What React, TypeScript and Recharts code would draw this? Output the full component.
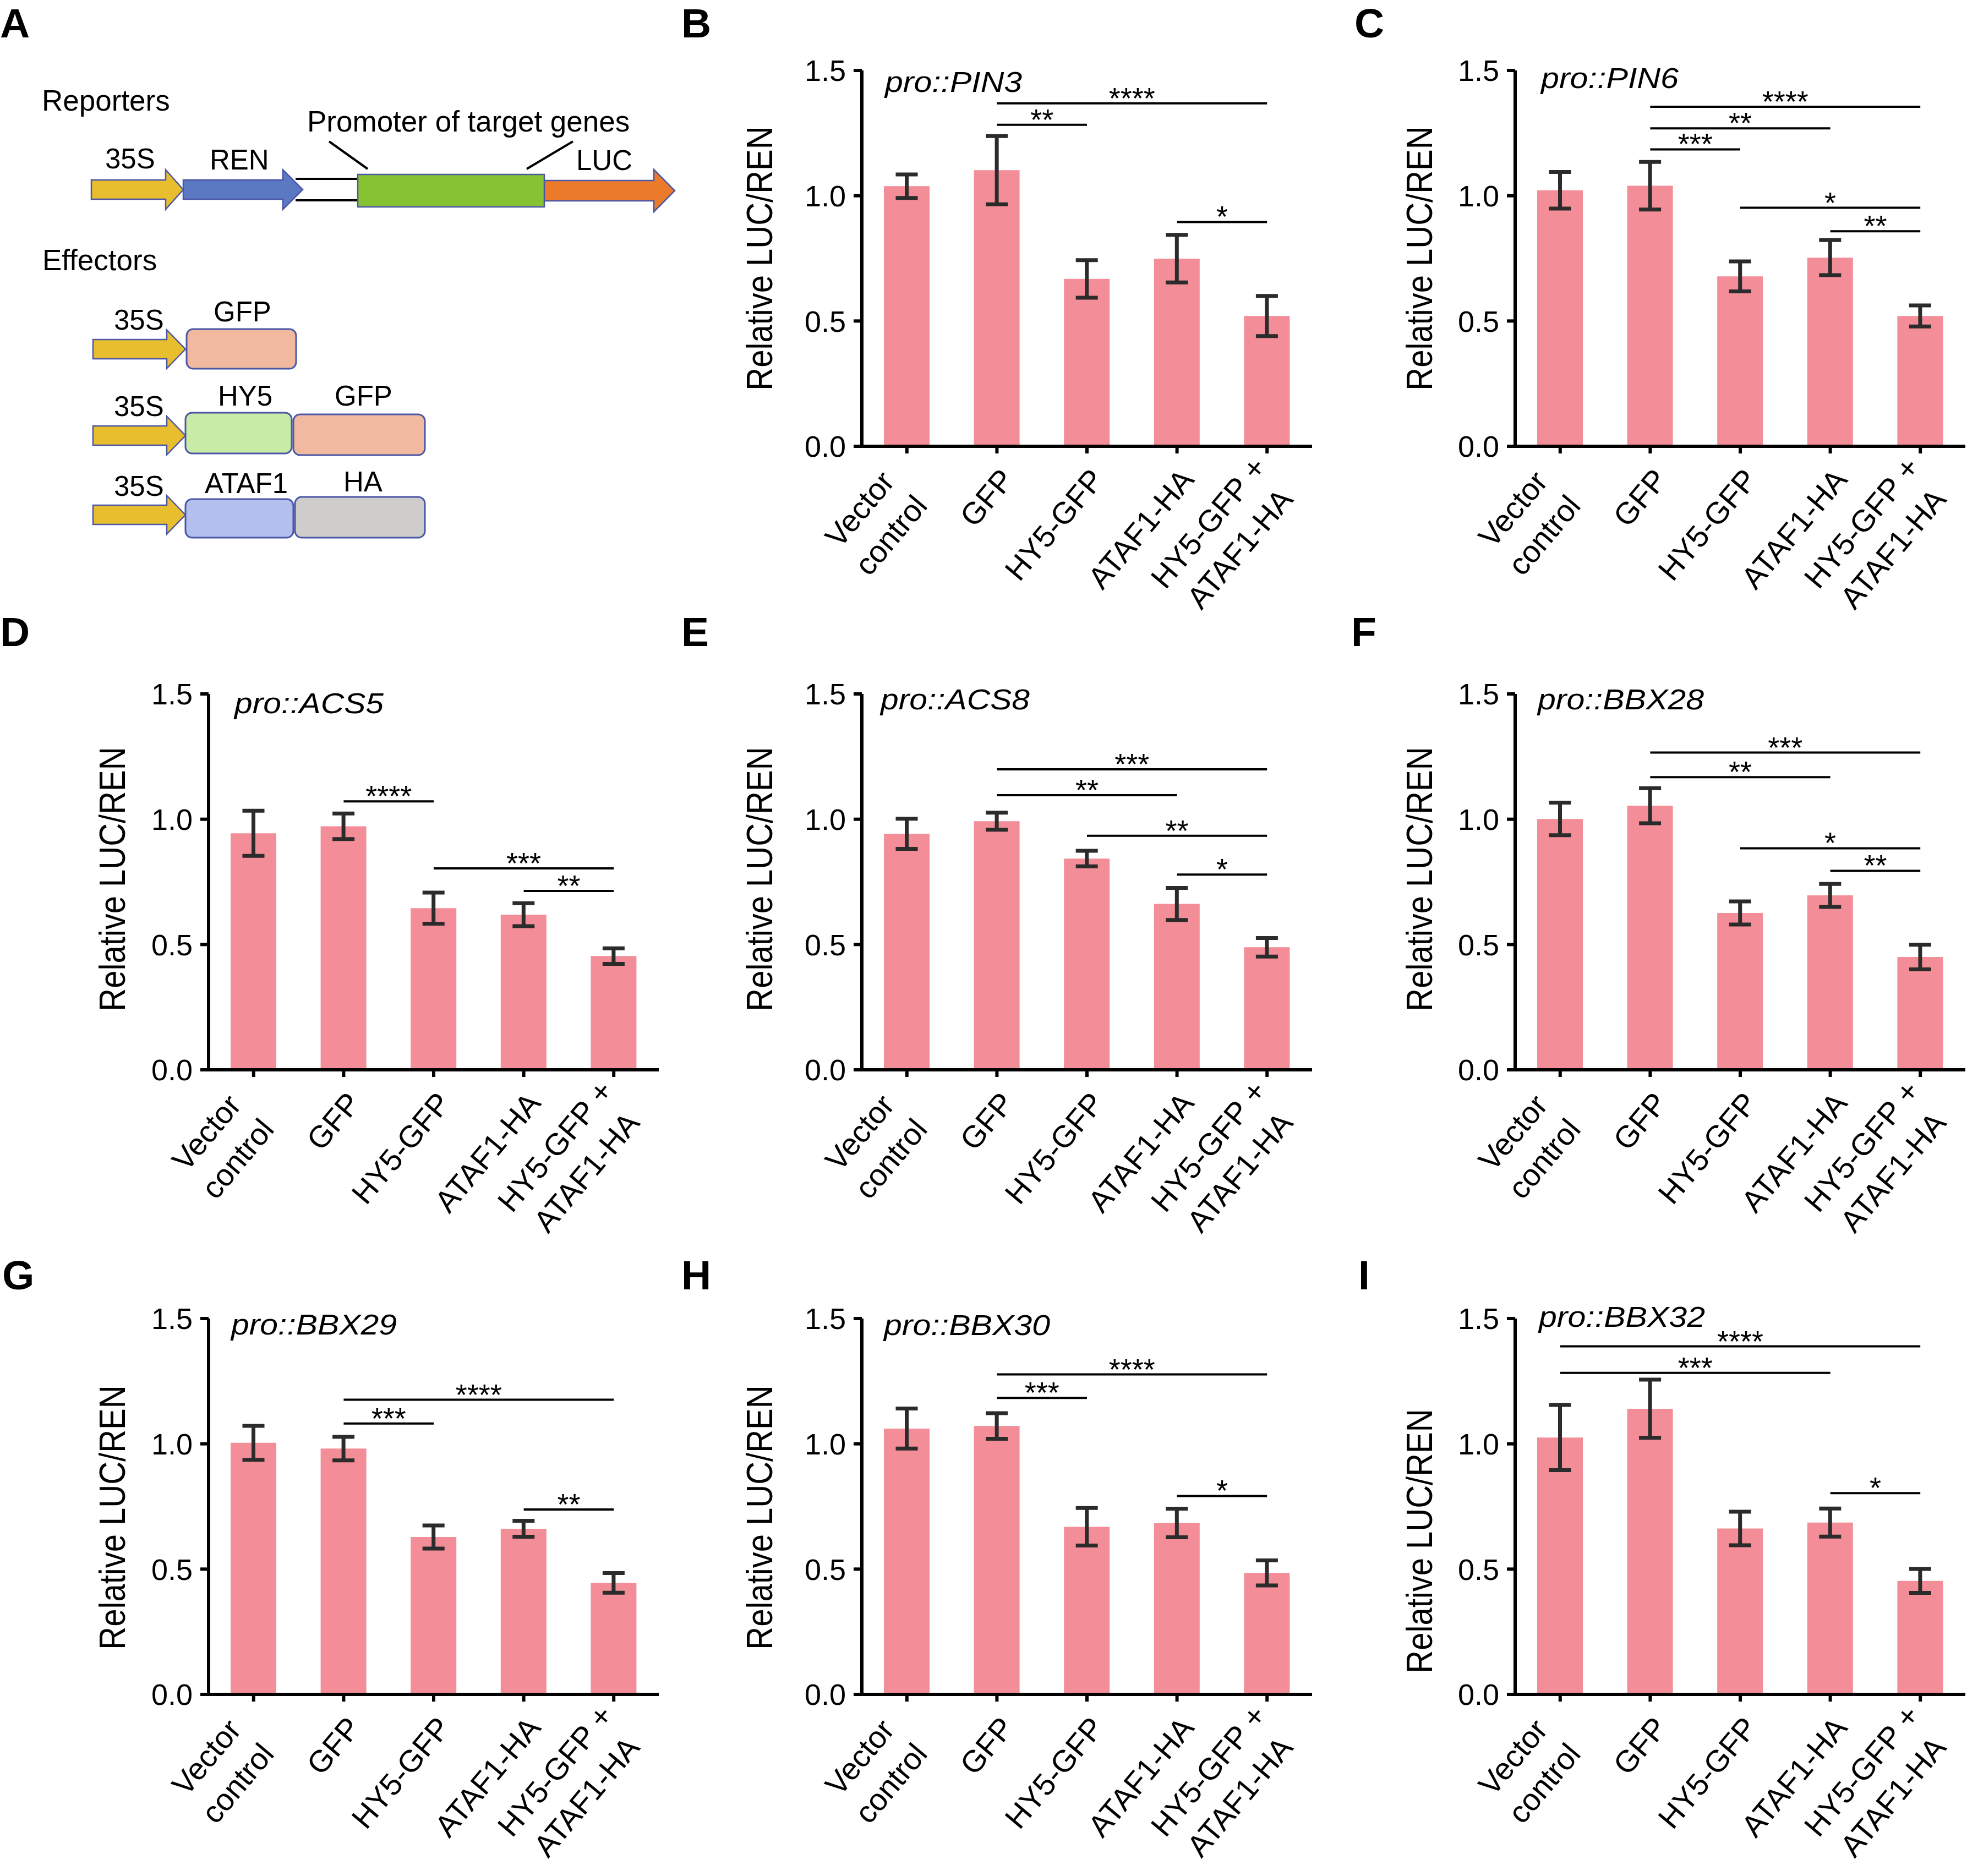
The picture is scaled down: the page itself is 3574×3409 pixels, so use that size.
import React from 'react';
import { BarChart, Bar, XAxis, YAxis, ErrorBar, ReferenceLine } from 'recharts';

// shared categories and ticks
const categories = ['Vector\ncontrol', 'GFP', 'HY5-GFP', 'ATAF1-HA', 'HY5-GFP +\nATAF1-HA'];
const yTicks = [0, 0.5, 1.0, 1.5];

// [from index, to index, bracket level, stars]
type Sig = [number, number, number, string];

const pin3Mean = [1.038, 1.102, 0.668, 0.749, 0.52];
const pin3Err = [0.047, 0.136, 0.075, 0.095, 0.08];
const pin3Sig: Sig[] = [[1, 4, 1.369, '****'], [1, 2, 1.283, '**'], [3, 4, 0.895, '*']];

const pin6Mean = [1.022, 1.04, 0.678, 0.753, 0.52];
const pin6Err = [0.073, 0.095, 0.06, 0.07, 0.042];
const pin6Sig: Sig[] = [[1, 4, 1.355, '****'], [1, 3, 1.269, '**'], [1, 2, 1.185, '***'], [2, 4, 0.952, '*'], [3, 4, 0.858, '**']];

const acs5Mean = [0.944, 0.972, 0.645, 0.619, 0.454];
const acs5Err = [0.09, 0.051, 0.062, 0.046, 0.031];
const acs5Sig: Sig[] = [[1, 2, 1.071, '****'], [2, 4, 0.804, '***'], [3, 4, 0.714, '**']];

const acs8Mean = [0.942, 0.992, 0.843, 0.662, 0.489];
const acs8Err = [0.06, 0.034, 0.031, 0.064, 0.037];
const acs8Sig: Sig[] = [[1, 4, 1.199, '***'], [1, 3, 1.096, '**'], [2, 4, 0.934, '**'], [3, 4, 0.779, '*']];

const bbx28Mean = [1.001, 1.054, 0.626, 0.696, 0.45];
const bbx28Err = [0.065, 0.07, 0.046, 0.046, 0.049];
const bbx28Sig: Sig[] = [[1, 4, 1.266, '***'], [1, 3, 1.168, '**'], [2, 4, 0.884, '*'], [3, 4, 0.794, '**']];

const bbx29Mean = [1.004, 0.981, 0.628, 0.661, 0.445];
const bbx29Err = [0.068, 0.047, 0.046, 0.032, 0.039];
const bbx29Sig: Sig[] = [[1, 4, 1.176, '****'], [1, 2, 1.081, '***'], [3, 4, 0.738, '**']];

const bbx30Mean = [1.061, 1.071, 0.669, 0.684, 0.485];
const bbx30Err = [0.08, 0.051, 0.075, 0.057, 0.05];
const bbx30Sig: Sig[] = [[1, 4, 1.277, '****'], [1, 2, 1.183, '***'], [3, 4, 0.792, '*']];

const bbx32Mean = [1.025, 1.14, 0.662, 0.686, 0.453];
const bbx32Err = [0.13, 0.116, 0.067, 0.056, 0.048];
const bbx32Sig: Sig[] = [[0, 4, 1.389, '****'], [0, 3, 1.283, '***'], [3, 4, 0.803, '*']];

const FONT = "'Liberation Sans', Arial, Helvetica, sans-serif";
const BAR = '#F38D97';
const Y_W = 230;
const M_TOP = 100;
const PLOT_W = 818;
const PLOT_H = 683;
const X_H = 360;
const XFS = 56;

const colX = [379, 1566, 2753];
const rowY = [128, 1261, 2396];

const panels = [
  { id: 'B', col: 1, row: 0, gene: 'PIN3', mean: pin3Mean, err: pin3Err, sig: pin3Sig, tdx: 42, tdy: 39, tw: 249, ldx: -187, ldy: 0 },
  { id: 'C', col: 2, row: 0, gene: 'PIN6', mean: pin6Mean, err: pin6Err, sig: pin6Sig, tdx: 47, tdy: 32, tw: 250, ldx: -175, ldy: 0 },
  { id: 'D', col: 0, row: 1, gene: 'ACS5', mean: acs5Mean, err: acs5Err, sig: acs5Sig, tdx: 47, tdy: 35, tw: 271, ldx: -176, ldy: -5 },
  { id: 'E', col: 1, row: 1, gene: 'ACS8', mean: acs8Mean, err: acs8Err, sig: acs8Sig, tdx: 34, tdy: 28, tw: 271, ldx: -187, ldy: -5 },
  { id: 'F', col: 2, row: 1, gene: 'BBX28', mean: bbx28Mean, err: bbx28Err, sig: bbx28Sig, tdx: 41, tdy: 28, tw: 302, ldx: -175, ldy: -5 },
  { id: 'G', col: 0, row: 2, gene: 'BBX29', mean: bbx29Mean, err: bbx29Err, sig: bbx29Sig, tdx: 41, tdy: 29, tw: 301, ldx: -176, ldy: 20 },
  { id: 'H', col: 1, row: 2, gene: 'BBX30', mean: bbx30Mean, err: bbx30Err, sig: bbx30Sig, tdx: 40, tdy: 30, tw: 302, ldx: -187, ldy: 20 },
  { id: 'I', col: 2, row: 2, gene: 'BBX32', mean: bbx32Mean, err: bbx32Err, sig: bbx32Sig, tdx: 43, tdy: 15, tw: 302, ldx: -175, ldy: 63 },
];

const letters = [
  { t: 'A', x: 0, y: 68 }, { t: 'B', x: 1238, y: 68 }, { t: 'C', x: 2461, y: 68 },
  { t: 'D', x: 0, y: 1174 }, { t: 'E', x: 1238, y: 1174 }, { t: 'F', x: 2455, y: 1174 },
  { t: 'G', x: 4, y: 2343 }, { t: 'H', x: 1238, y: 2343 }, { t: 'I', x: 2468, y: 2343 },
];

// Arial / Liberation Sans advance widths (em) for the label characters
const AW: Record<string, number> = {
  V: 0.667, e: 0.556, c: 0.5, t: 0.278, o: 0.556, r: 0.333, n: 0.556, l: 0.222, G: 0.778, F: 0.611,
  P: 0.667, H: 0.722, Y: 0.667, '5': 0.556, '-': 0.333, A: 0.667, T: 0.611, '1': 0.556, ' ': 0.278, '+': 0.584,
};
const textW = (s: string, fs: number) => Array.from(s).reduce((a, ch) => a + (AW[ch] ?? 0.556), 0) * fs;

function XTick(props: any) {
  const { x, y, payload } = props;
  const lines = String(payload.value).split('\n');
  const n = lines.length;
  if (n === 1) {
    return (
      <g transform={`translate(${x + 18},${y + 34}) rotate(-50)`}>
        <text x={0} y={20} textAnchor="end" fontSize={XFS} fontFamily={FONT} fill="#000">{lines[0]}</text>
      </g>
    );
  }
  // multi-line labels: centred lines, longer blocks sit a little further out
  const w = Math.max(...lines.map((l) => textW(l, XFS)));
  const cx = -w / 2 + 0.24 * (w - 168);
  return (
    <g transform={`translate(${x - 4},${y + 58}) rotate(-50)`}>
      <text textAnchor="middle" fontSize={XFS} fontFamily={FONT} fill="#000">
        {lines.map((t, i) => (
          <tspan key={i} x={cx} y={(i - (n - 1) / 2) * 74 + 20}>{t}</tspan>
        ))}
      </text>
    </g>
  );
}

function Panel({ p }: { p: (typeof panels)[number] }) {
  const data = categories.map((name, i) => ({ name, v: p.mean[i], e: p.err[i] }));
  const left = colX[p.col] - Y_W;
  const top = rowY[p.row] - M_TOP;
  return (
    <div style={{ position: 'absolute', left, top }}>
      <BarChart
        width={Y_W + PLOT_W + 3}
        height={M_TOP + PLOT_H + X_H}
        data={data}
        margin={{ top: M_TOP, right: 3, left: 0, bottom: 0 }}
      >
        <XAxis
          dataKey="name"
          interval={0}
          height={X_H}
          tickSize={13}
          tickMargin={2}
          axisLine={{ stroke: '#000', strokeWidth: 6 }}
          tickLine={{ stroke: '#000', strokeWidth: 6 }}
          tick={<XTick />}
        />
        <YAxis
          type="number"
          domain={[0, 1.5]}
          ticks={yTicks}
          interval={0}
          allowDataOverflow
          width={Y_W}
          tickSize={15}
          tickMargin={14}
          tickFormatter={(v: number) => v.toFixed(1)}
          axisLine={{ stroke: '#000', strokeWidth: 6 }}
          tickLine={{ stroke: '#000', strokeWidth: 6 }}
          tick={{ fill: '#000', fontSize: 54, fontFamily: FONT }}
        />
        <Bar dataKey="v" fill={BAR} barSize={83} isAnimationActive={false}>
          <ErrorBar dataKey="e" direction="y" width={20} strokeWidth={7} stroke="#2b2b2b" isAnimationActive={false} />
        </Bar>
        {p.sig.map(([a, b, lvl, txt], k) => (
          <ReferenceLine
            key={k}
            segment={[{ x: categories[a], y: lvl }, { x: categories[b], y: lvl }]}
            stroke="#000"
            strokeWidth={4}
            ifOverflow="visible"
            label={{ value: txt, position: 'top', offset: -9, fill: '#000', fontSize: 54, fontFamily: FONT }}
          />
        ))}
      </BarChart>
    </div>
  );
}

const arrowPts = (x0: number, xh: number, xt: number, yc: number, bh: number, hh: number) =>
  `${x0},${yc - bh} ${xh},${yc - bh} ${xh},${yc - hh} ${xt},${yc} ${xh},${yc + hh} ${xh},${yc + bh} ${x0},${yc + bh}`;

const OUT = '#4a56a6';
const YEL = '#E8BE2E';

function Diagram() {
  const t = (s: string, x: number, y: number, size = 51) => (
    <text x={x} y={y} fontSize={size} fontFamily={FONT} fill="#000">{s}</text>
  );
  const rows = [
    { yc: 634.5, lab: 599, boxes: [{ x: 339, y: 598, w: 199, h: 72, f: '#F1B9A0', s: 'GFP', tx: 388, ty: 584 }] },
    {
      yc: 791.5, lab: 756, boxes: [
        { x: 337, y: 750, w: 193, h: 74, f: '#C8EBA6', s: 'HY5', tx: 396, ty: 737 },
        { x: 533, y: 753, w: 239, h: 74, f: '#F1B9A0', s: 'GFP', tx: 608, ty: 737 },
      ],
    },
    {
      yc: 935.5, lab: 901, boxes: [
        { x: 337, y: 907, w: 196, h: 70, f: '#B3BFEC', s: 'ATAF1', tx: 372, ty: 896 },
        { x: 536, y: 903, w: 236, h: 74, f: '#CFCCCC', s: 'HA', tx: 624, ty: 893 },
      ],
    },
  ];
  return (
    <g>
      {t('Reporters', 76, 201, 53)}
      {t('Promoter of target genes', 558, 239, 53)}
      {t('35S', 191, 306)}
      {t('REN', 381, 308)}
      {t('LUC', 1047, 309)}
      <polygon points={arrowPts(166, 301, 333, 344.5, 17.5, 36)} fill={YEL} stroke={OUT} strokeWidth={2.5} />
      <polygon points={arrowPts(333, 514, 550, 344.5, 17.5, 36)} fill="#5A79C2" stroke={OUT} strokeWidth={2.5} />
      <line x1={537} y1={325} x2={652} y2={325} stroke="#000" strokeWidth={4} />
      <line x1={537} y1={364} x2={652} y2={364} stroke="#000" strokeWidth={4} />
      <polygon points={arrowPts(989, 1188, 1226, 346.5, 18.5, 38.5)} fill="#EC7A2B" stroke={OUT} strokeWidth={2.5} />
      <rect x={650} y={317} width={339} height={59} fill="#86C232" stroke={OUT} strokeWidth={2.5} />
      <line x1={598} y1={257} x2={668} y2={307} stroke="#000" strokeWidth={4} />
      <line x1={1041} y1={257} x2={957} y2={307} stroke="#000" strokeWidth={4} />
      {t('Effectors', 77, 491, 53)}
      {rows.map((r, i) => (
        <g key={i}>
          {t('35S', 207, r.lab)}
          <polygon points={arrowPts(169, 303, 337, r.yc, 17.5, 35)} fill={YEL} stroke={OUT} strokeWidth={2.5} />
          {r.boxes.map((b, j) => (
            <g key={j}>
              <rect x={b.x} y={b.y} width={b.w} height={b.h} rx={12} fill={b.f} stroke={OUT} strokeWidth={3} />
              {t(b.s, b.tx, b.ty)}
            </g>
          ))}
        </g>
      ))}
    </g>
  );
}

export default function App() {
  return (
    <div style={{ position: 'absolute', left: 0, top: 0, width: 3574, height: 3409, overflow: 'hidden', background: '#fff' }}>
      {panels.map((p) => (
        <Panel key={p.id} p={p} />
      ))}
      <svg width={3574} height={3409} style={{ position: 'absolute', left: 0, top: 0, pointerEvents: 'none' }}>
        <Diagram />
        {letters.map((l) => (
          <text key={l.t} x={l.x} y={l.y} fontSize={75} fontWeight="bold" fontFamily={FONT} fill="#000">{l.t}</text>
        ))}
        {panels.map((p) => {
          const ax = colX[p.col];
          const top = rowY[p.row];
          return (
            <g key={p.id}>
              <text
                x={ax + p.tdx}
                y={top + p.tdy}
                fontSize={51}
                fontStyle="italic"
                fontFamily={FONT}
                fill="#000"
                textLength={p.tw}
                lengthAdjust="spacingAndGlyphs"
              >
                {'pro::' + p.gene}
              </text>
              <g transform={`translate(${ax + p.ldx},${top + PLOT_H / 2 + p.ldy}) scale(1.15,1) rotate(-90)`}>
                <text x={0} y={0} dy="0.36em" textAnchor="middle" fontSize={58} fontFamily={FONT} fill="#000">
                  Relative LUC/REN
                </text>
              </g>
            </g>
          );
        })}
      </svg>
    </div>
  );
}
